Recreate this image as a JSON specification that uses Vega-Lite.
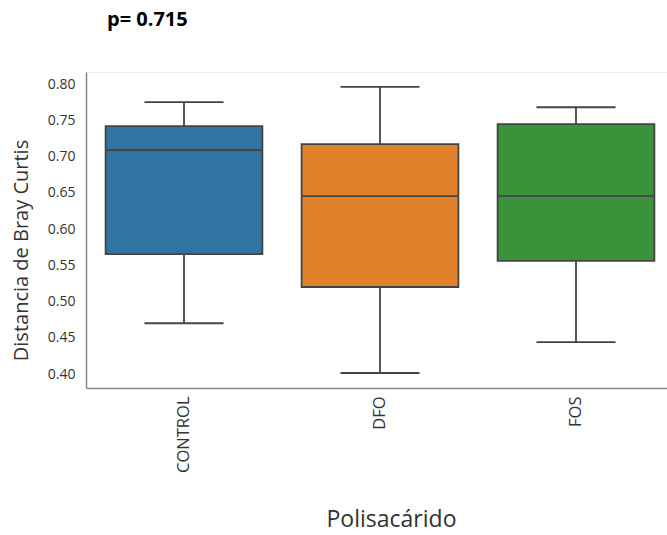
{
  "$schema": "https://vega.github.io/schema/vega-lite/v6.json",
  "width": 581,
  "height": 316,
  "autosize": {"type": "none"},
  "padding": {"left": 86, "top": 72, "right": 0, "bottom": 147},
  "background": "white",
  "title": {
    "text": "p= 0.715",
    "anchor": "start",
    "frame": "group",
    "dx": 21,
    "offset": 42,
    "font": "Open Sans",
    "fontSize": 20,
    "fontWeight": "bold",
    "color": "#000000"
  },
  "config": {
    "view": {"stroke": "#eeeeee", "strokeWidth": 1},
    "font": "Open Sans",
    "axisY": {
      "labelOverlap": false,
      "labelFontSize": 14,
      "labelColor": "#333333",
      "labelPadding": 11,
      "ticks": false,
      "grid": false,
      "domainColor": "#888888",
      "domainWidth": 1.5,
      "titleFontSize": 20,
      "titleFontWeight": "normal",
      "titleColor": "#333333",
      "titlePadding": 16,
      "titleY": 178
    }
  },
  "data": {
    "values": [
      {"Polisacarido": "CONTROL", "low": 0.470, "q1": 0.5655, "median": 0.709, "q3": 0.742, "high": 0.775},
      {"Polisacarido": "DFO", "low": 0.4014, "q1": 0.520, "median": 0.6455, "q3": 0.717, "high": 0.796},
      {"Polisacarido": "FOS", "low": 0.444, "q1": 0.556, "median": 0.6455, "q3": 0.7448, "high": 0.768}
    ]
  },
  "encoding": {
    "x": {
      "field": "Polisacarido",
      "type": "nominal",
      "sort": ["CONTROL", "DFO", "FOS"],
      "scale": {"range": [0, 588], "paddingInner": 0.2, "paddingOuter": 0.1},
      "axis": {
        "title": "Polisacárido",
        "titleFontSize": 23,
        "titleFontWeight": "normal",
        "titleColor": "#333333",
        "titlePadding": 36,
        "titleX": 305,
        "labelAngle": -90,
        "labelFontSize": 16.5,
        "labelColor": "#333333",
        "labelPadding": 8,
        "ticks": false,
        "domainColor": "#888888",
        "domainWidth": 1.5
      }
    }
  },
  "layer": [
    {
      "mark": {"type": "rule", "color": "#444444", "strokeWidth": 1.8},
      "encoding": {
        "y": {
          "field": "low",
          "type": "quantitative",
          "scale": {"domain": [0.3807, 0.8166], "nice": false, "zero": false},
          "axis": {
            "title": "Distancia de Bray Curtis",
            "values": [0.4, 0.45, 0.5, 0.55, 0.6, 0.65, 0.7, 0.75, 0.8],
            "format": ".2f"
          }
        },
        "y2": {"field": "high"}
      }
    },
    {
      "mark": {"type": "bar", "width": {"band": 1}, "stroke": "#444444", "strokeWidth": 1.8},
      "encoding": {
        "y": {
          "field": "q1",
          "type": "quantitative",
          "axis": {
            "title": "Distancia de Bray Curtis",
            "values": [0.4, 0.45, 0.5, 0.55, 0.6, 0.65, 0.7, 0.75, 0.8],
            "format": ".2f"
          }
        },
        "y2": {"field": "q3"},
        "color": {
          "field": "Polisacarido",
          "type": "nominal",
          "scale": {"domain": ["CONTROL", "DFO", "FOS"], "range": ["#3274a1", "#e1812c", "#3a923a"]},
          "legend": null
        }
      }
    },
    {
      "mark": {"type": "tick", "color": "#444444", "size": 157, "thickness": 1.8, "opacity": 1},
      "encoding": {
        "y": {
          "field": "median",
          "type": "quantitative",
          "axis": {
            "title": "Distancia de Bray Curtis",
            "values": [0.4, 0.45, 0.5, 0.55, 0.6, 0.65, 0.7, 0.75, 0.8],
            "format": ".2f"
          }
        }
      }
    },
    {
      "mark": {"type": "tick", "color": "#444444", "size": 79, "thickness": 1.8, "opacity": 1},
      "encoding": {
        "y": {
          "field": "low",
          "type": "quantitative",
          "axis": {
            "title": "Distancia de Bray Curtis",
            "values": [0.4, 0.45, 0.5, 0.55, 0.6, 0.65, 0.7, 0.75, 0.8],
            "format": ".2f"
          }
        }
      }
    },
    {
      "mark": {"type": "tick", "color": "#444444", "size": 79, "thickness": 1.8, "opacity": 1},
      "encoding": {
        "y": {
          "field": "high",
          "type": "quantitative",
          "axis": {
            "title": "Distancia de Bray Curtis",
            "values": [0.4, 0.45, 0.5, 0.55, 0.6, 0.65, 0.7, 0.75, 0.8],
            "format": ".2f"
          }
        }
      }
    }
  ]
}
